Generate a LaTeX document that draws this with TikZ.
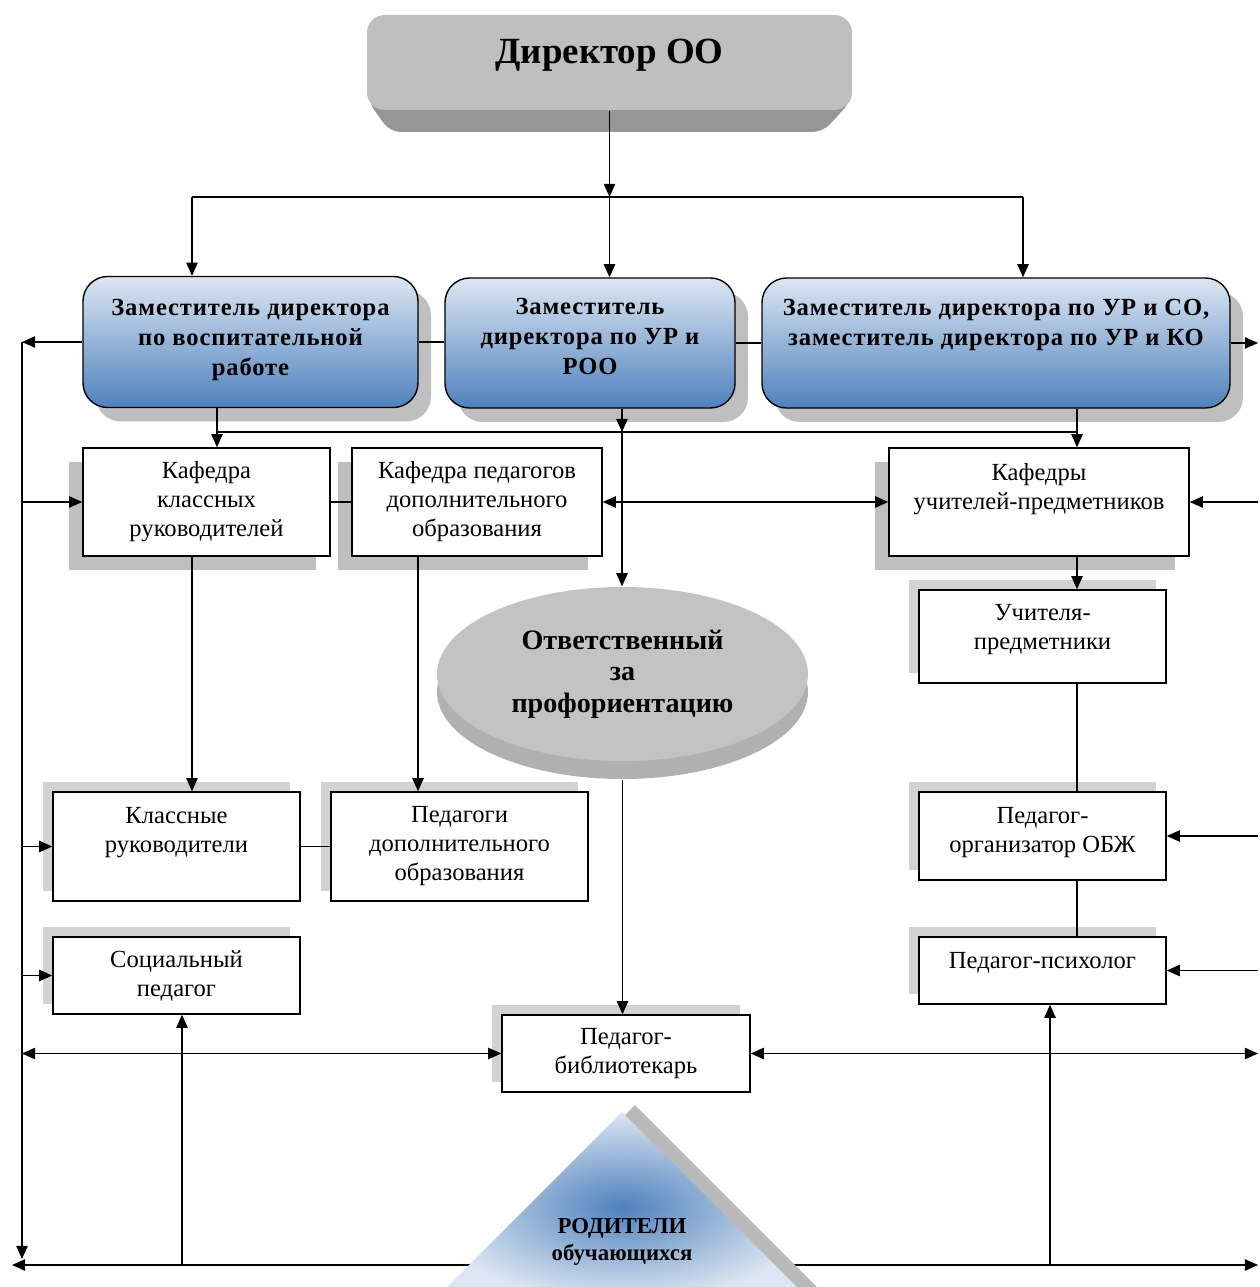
\documentclass[tikz,border=0pt]{standalone}
\usepackage{fontspec}
\setmainfont{Liberation Serif}
\usetikzlibrary{positioning, shapes.geometric, arrows.meta, shadows}
\definecolor{depTop}{HTML}{DCE6F2}
\definecolor{depBot}{HTML}{4F81BD}

\tikzset{
  boxsize/.style 2 args={minimum width=#1*0.02cm, minimum height=#2*0.02cm},
  lift/.style={text depth=#1*0.02cm},
  dirbox/.style={fill=gray!50, rounded corners=10pt, font=\bfseries\fontsize{21}{24}\selectfont},
  dep/.style={draw, line width=0.8pt, rounded corners=14pt, top color=depTop, bottom color=depBot,
    align=center, font=\bfseries\fontsize{14}{17}\selectfont\addfontfeature{LetterSpace=3.5},
    drop shadow={shadow xshift=0.26cm, shadow yshift=-0.28cm, fill=gray!50, opacity=1}},
  plainbox/.style={draw, line width=0.8pt, fill=white, align=center, font=\fontsize{14}{16.5}\selectfont},
  kaf/.style={plainbox, drop shadow={shadow xshift=-0.28cm, shadow yshift=-0.28cm, fill=gray!50, opacity=1}},
  staff/.style={plainbox, drop shadow={shadow xshift=-0.2cm, shadow yshift=0.2cm, fill=gray!35, opacity=1}},
  disc/.style={ellipse, boxsize={371}{174}, align=center, font=\bfseries\fontsize{16}{18}\selectfont},
}

\begin{document}
\begin{tikzpicture}[x=0.02cm, y=-0.02cm, >={Triangle[length=7.5pt, width=6.5pt]}, line width=0.75pt]
    \useasboundingbox (0,0) rectangle (1259,1287);
    \clip (0,0) rectangle (1259,1287);

    \fill[gray!82, rounded corners=6pt] (367,100) -- (852,100) -- (823,132) -- (390,132) -- cycle;%скос
    \node[dirbox, boxsize={485}{95}, lift=22] (dir) at (609.5,62.5) {Директор ОО};

    \node[dep, boxsize={335}{131}, lift=10] (dep1) at (250.5,342) {Заместитель директора\\по воспитательной\\работе};
    \node[dep, boxsize={290}{130}, lift=13] (dep2) at (590,343) {Заместитель\\директора по УР и\\РОО};
    \node[dep, boxsize={468}{130}, lift=42] (dep3) at (996,343) {Заместитель директора по УР и СО,\\заместитель директора по УР и КО};

    \node[kaf, boxsize={247}{108}] (kkr) at (206.5,502) {Кафедра\\классных\\руководителей};
    \node[kaf, boxsize={250}{108}] (kpdo) at (477,502) {Кафедра педагогов\\дополнительного\\образования};
    \node[kaf, boxsize={300}{108}, lift=32] (kup) at (1039,502) {Кафедры\\учителей-предметников};

    \node[staff, boxsize={247}{93}, lift=20] (uch) at (1042.5,636.5) {Учителя-\\предметники};
    \node[staff, boxsize={247}{88}, lift=12] (porg) at (1042.5,836) {Педагог-\\организатор ОБЖ};
    \node[staff, boxsize={247}{67}, lift=20] (psy) at (1042.5,970.5) {Педагог-психолог};
    \node[staff, boxsize={247}{109}, lift=33] (kl) at (176.5,846.5) {Классные\\руководители};
    \node[staff, boxsize={257}{109}] (pdo) at (459.5,846.5) {Педагоги\\дополнительного\\образования};
    \node[staff, boxsize={247}{77}] (soc) at (176.5,975.5) {Социальный\\педагог};
    \node[staff, boxsize={248}{77}] (lib) at (626,1053.5) {Педагог-\\библиотекарь};

    \node[disc, fill=gray!62] (respBase) at (622.5,692) {};
    \node[disc, fill=gray!47] (resp) at (622.5,674) {Ответственный\\за\\профориентацию};

    \coordinate (lEdge) at (22,0);
    \coordinate (rEdge) at (1258,0);
    \coordinate (busL) at (192,197);
    \coordinate (busR) at (1023,197);
    \coordinate (jL) at (217,432);
    \coordinate (jM) at (622,432);
    \coordinate (jR) at (1077,432);
    \coordinate (cKl) at (192,0);
    \coordinate (cPdo) at (418,0);
    \coordinate (lEnd) at (22,1259);
    \coordinate (bot) at (12,1265);
    \coordinate (cSoc) at (182,1265);
    \coordinate (cPsy) at (1050,1265);

    % директор -> заместители
    \draw[->] (dir.south) -- (dir.south |- busL);
    \draw (busL) -- (busR);
    \draw[->] (busL) -- (busL |- dep1.north);
    \draw[->] (dir.south |- busL) -- (dir.south |- dep2.north);
    \draw[->] (busR) -- (busR |- dep3.north);
    \draw (dep1.east) -- (dep1.east -| dep2.west);
    \draw (dep2.east) -- (dep3.west);
    \draw[->] (dep1.west) -- (dep1.west -| lEdge);
    \draw[->] (dep3.east) -- (dep3.east -| rEdge);

    % заместители -> кафедры
    \draw (jL) -- (jR);
    \draw (jL |- dep1.south) -- (jL);
    \draw[->] (jL) -- (jL |- kkr.north);
    \draw (jR |- dep3.south) -- (jR);
    \draw[->] (jR) -- (jR |- kup.north);
    \draw[->] (jM |- dep2.south) -- (jM);
    \draw[->] (jM) -- (jM |- resp.north);

    \draw (kkr.east) -- (kpdo.west);
    \draw[<->] (kpdo.east) -- (kup.west);
    \draw[->] (kup.east -| rEdge) -- (kup.east);
    \draw[->] (kkr.west -| lEdge) -- (kkr.west);
    \draw[->] (kkr.south -| cKl) -- (kl.north -| cKl);
    \draw[->] (kpdo.south -| cPdo) -- (pdo.north -| cPdo);
    \draw[->] (jR |- kup.south) -- (jR |- uch.north);
    \draw (jR |- uch.south) -- (jR |- porg.north);
    \draw (jR |- porg.south) -- (jR |- psy.north);

    \draw[->] (porg.east -| rEdge) -- (porg.east);
    \draw[->] (psy.east -| rEdge) -- (psy.east);
    \draw[->] (kl.west -| lEdge) -- (kl.west);
    \draw[->] (soc.west -| lEdge) -- (soc.west);
    \draw (kl.east) -- (kl.east -| pdo.west);

    % библиотекарь
    \draw[->] (respBase.south) -- (respBase.south |- lib.north);
    \draw[<->] (lib.west -| lEdge) -- (lib.west);
    \draw[<->] (lib.east) -- (lib.east -| rEdge);

    % рамка снизу
    \draw[->] (dep1.west -| lEdge) -- (lEnd);
    \draw[<->] (bot) -- (bot -| rEdge);
    \draw[->] (cSoc) -- (cSoc |- soc.south);
    \draw[->] (cPsy) -- (cPsy |- psy.south);

    % родители
    \fill[gray!55, shift={(13,-7)}] (622,1112) -- (812,1302) -- (432,1302) -- cycle;
    \shade[inner color=depBot, outer color=depTop] (622,1112) -- (812,1302) -- (432,1302) -- cycle;
    \node[font=\bfseries\fontsize{13}{15}\selectfont, align=center] (par) at (622,1242) {РОДИТЕЛИ\\обучающихся};
\end{tikzpicture}
\end{document}
